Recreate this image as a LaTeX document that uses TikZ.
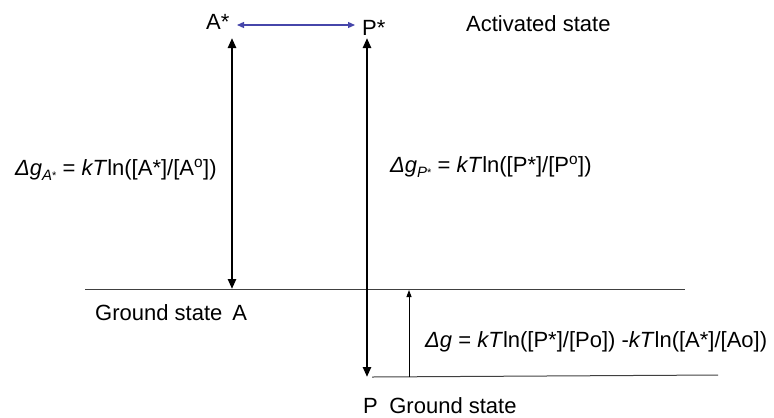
\documentclass[tikz,border=0pt]{standalone}
\usepackage{fontspec}
\setmainfont{Liberation Sans}
\usetikzlibrary{arrows.meta}
\newcommand{\mysub}[1]{\raisebox{-5bp}{\fontsize{15bp}{15bp}\selectfont\itshape #1\raisebox{1bp}{\fontsize{11bp}{11bp}\selectfont\upshape *}}}
\begin{document}
\begin{tikzpicture}[x=1bp,y=-1bp,
  every node/.style={font=\fontsize{22bp}{26bp}\selectfont, inner sep=0pt},
  lbl/.style={anchor=west},
  bl/.style={anchor=base west},
  thickarr/.style={line width=2.4bp, {Triangle[length=10bp,width=8bp]}-{Triangle[length=10bp,width=8bp]}},
  level/.style={line width=1bp, draw=black!75},
  thinarr/.style={line width=0.9bp, -{Triangle[length=7bp,width=5bp]}},
  bluearr/.style={line width=1.2bp, draw={rgb,255:red,70;green,70;blue,170}, {Triangle[length=7bp,width=6bp]}-{Triangle[length=7bp,width=6bp]}}
]
\useasboundingbox (0,0) rectangle (774,417);

% state labels
\node[bl] (Astar) at (206,29) {A*};
\node[bl] (Pstar) at (362,35) {P*};
\node[bl] (act) at (466,31) {Activated state};

% blue exchange arrow
\coordinate (blueL) at (237,25);
\coordinate (blueR) at (355,25);
\draw[bluearr] (blueL) -- (blueR);

% level lines
\coordinate (gL) at (85,289);
\coordinate (gR) at (685,289);
\coordinate (bLft) at (372,377);
\coordinate (bRgt) at (718,375);
\draw[level] (gL) -- (gR);
\draw[level] (bLft) -- (bRgt);

% vertical arrows
\coordinate (aTop) at (232,38);
\coordinate (aBot) at (232,289);
\coordinate (pTop) at (367,38);
\coordinate (pBot) at (367,377);
\draw[thickarr] (aBot) -- (aTop);
\draw[thickarr] (pBot) -- (pTop);

\coordinate (dB) at (409,377);
\coordinate (dT) at (409,290);
\draw[thinarr] (dB) -- (dT);

% formulas
\node[bl] (dgA) at (15,175) {\textit{Δg}\mysub{A} = \textit{kT}ln([A*]/[A\textsuperscript{o}])};
\node[bl] (dgP) at (390,172) {\textit{Δg}\mysub{P} = \textit{kT}ln([P*]/[P\textsuperscript{o}])};
\node[lbl] (dg) at (425,342) {\textit{Δg} = \textit{kT}ln([P*]/[Po]) -\textit{kT}ln([A*]/[Ao])};

% ground state labels
\node[bl] (gsA) at (95,320) {Ground state\hspace{10bp}A};
\node[bl] (gsP) at (363,413) {P\hspace{11.5bp}Ground state};
\end{tikzpicture}
\end{document}
